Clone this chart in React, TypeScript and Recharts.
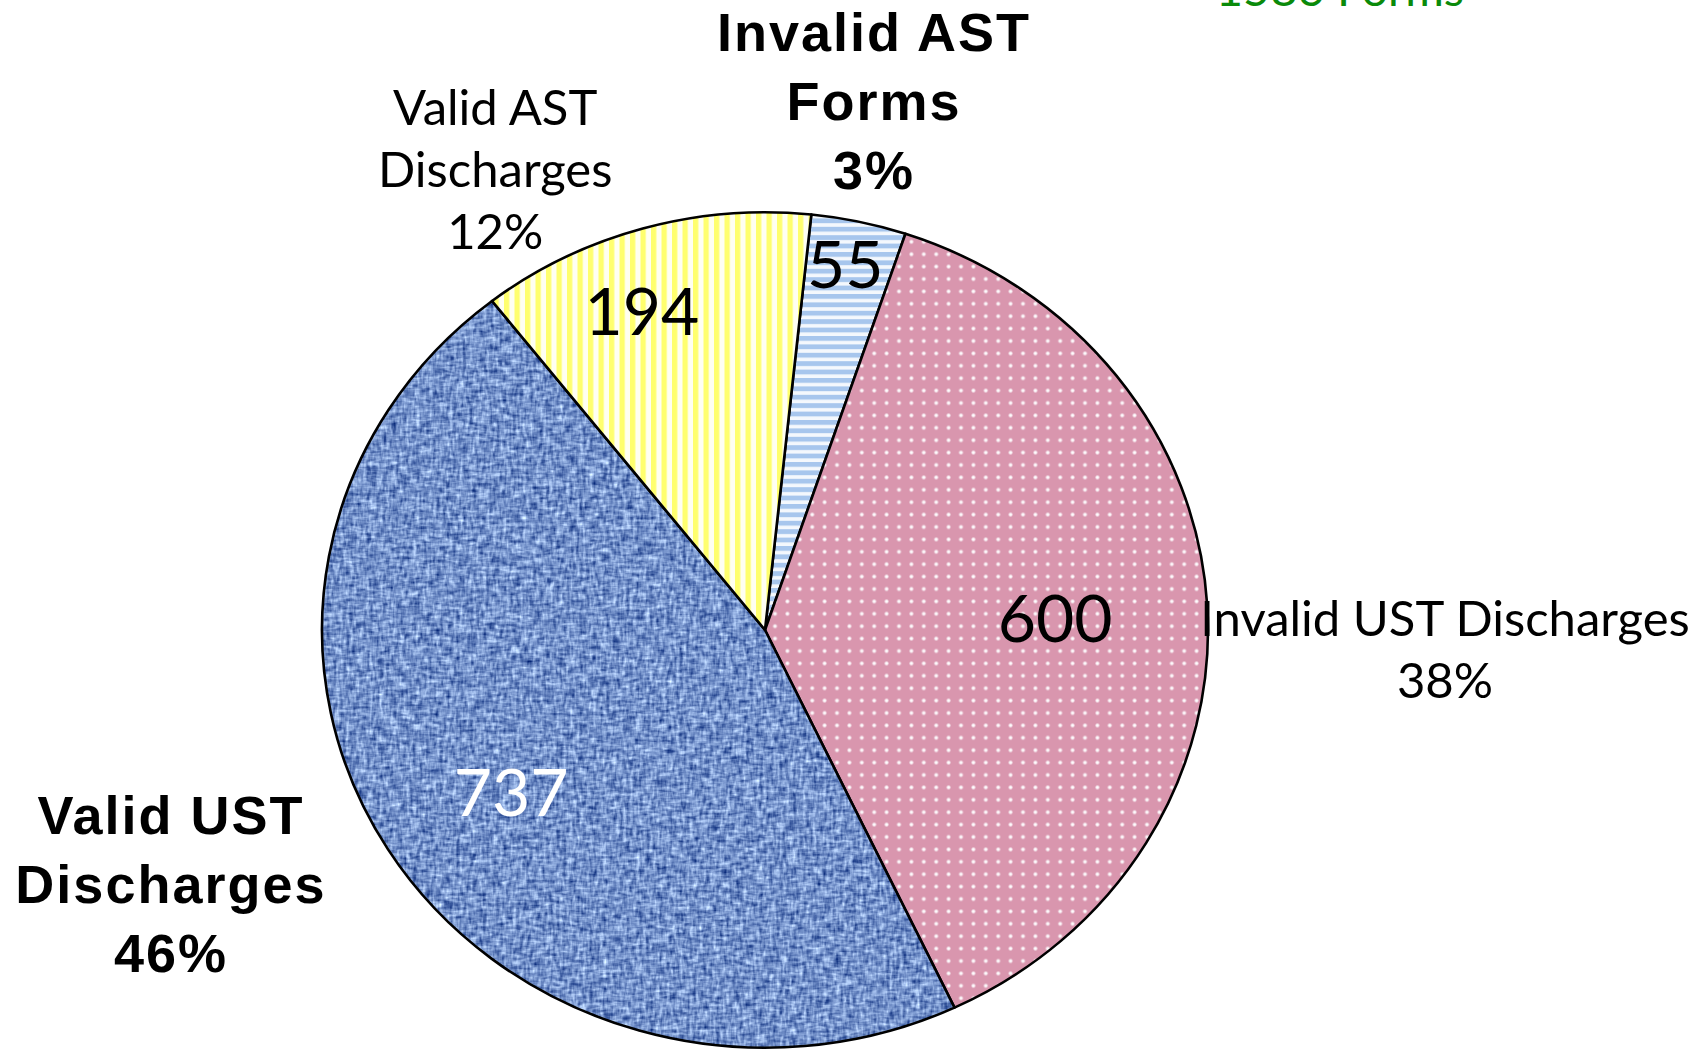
import React from "react";
import { PieChart, Pie, Cell } from "recharts";

// pie slices, clockwise from just right of 12 o'clock
const categories = ["Invalid AST\nForms", "Invalid UST Discharges", "Valid UST\nDischarges", "Valid AST\nDischarges"];
const counts = [55, 600, 737, 194];

const fills = ["url(#hStripe)", "url(#pinkDots)", "url(#blueWeave)", "url(#vStripe)"];
const boldLabel = [true, false, true, false];
const valueColors = ["#000", "#000", "#fff", "#000"];

// label anchors relative to the pie centre, in units of the radius
const nameSpots = [
  [0.246, -1.307],
  [1.535, 0.013],
  [-1.341, 0.46],
  [-0.609, -1.14]
];
const valueSpots = [
  [0.181, -0.772],
  [0.655, 0.027],
  [-0.573, 0.42],
  [-0.278, -0.666]
];

const W = 1706;
const H = 1053;
const SQUASH = 0.943;
const RAD = Math.PI / 180;

const tableData = categories.map((name, i) => ({ name, value: counts[i] }));
const totalForms = counts.reduce((a, b) => a + b, 0);

const EllipseSector = (props: any) => {
  const { cx, cy, outerRadius, startAngle, endAngle, fill } = props;
  const pt = (a: number) => [
    cx + outerRadius * Math.cos(-a * RAD),
    cy + outerRadius * SQUASH * Math.sin(-a * RAD)
  ];
  const [x1, y1] = pt(startAngle);
  const [x2, y2] = pt(endAngle);
  const large = Math.abs(endAngle - startAngle) > 180 ? 1 : 0;
  const sweep = startAngle > endAngle ? 1 : 0;
  const d = `M${cx},${cy} L${x1},${y1} A${outerRadius},${outerRadius * SQUASH} 0 ${large} ${sweep} ${x2},${y2} Z`;
  return <path d={d} fill={fill} stroke="#000" strokeWidth={2.6} strokeLinejoin="round" />;
};

const renderLabel = (p: any) => {
  const { cx, cy, outerRadius, index, value, percent } = p;
  const r = outerRadius;
  const bold = boldLabel[index];
  const lines = [...categories[index].split("\n"), `${Math.round(percent * 100)}%`];
  const nx = cx + nameSpots[index][0] * r;
  const ny = cy + nameSpots[index][1] * r;
  const vx = cx + valueSpots[index][0] * r;
  const vy = cy + valueSpots[index][1] * r;
  return (
    <g>
      <text
        x={nx}
        y={ny}
        textAnchor="middle"
        fill="#000"
        fontFamily={bold ? "'Liberation Sans', Arial, sans-serif" : "Lato, sans-serif"}
        fontWeight={bold ? 700 : 400}
        fontSize={bold ? 54 : 49}
        letterSpacing={bold ? 2 : 0}
      >
        {lines.map((l, i) => (
          <tspan key={i} x={nx} dy={i === 0 ? 0 : bold ? 69 : 62}>
            {l}
          </tspan>
        ))}
      </text>
      <text
        x={vx}
        y={vy}
        textAnchor="middle"
        fill={valueColors[index]}
        fontFamily="Lato, sans-serif"
        fontSize={66}
      >
        {value}
      </text>
    </g>
  );
};

export default function App() {
  return (
    <div style={{ position: "absolute", left: 0, top: 0, width: W, height: H, background: "#fff" }}>
      <PieChart width={W} height={H} margin={{ top: 0, right: 0, bottom: 0, left: 0 }}>
        <defs>
          <pattern id="hStripe" patternUnits="userSpaceOnUse" width={20} height={8.4}>
            <rect width={20} height={8.4} fill="#f4f8fd" />
            <rect y={0} width={20} height={4.8} fill="#a7c6ed" />
          </pattern>
          <pattern id="vStripe" patternUnits="userSpaceOnUse" width={10.5} height={20}>
            <rect width={10.5} height={20} fill="#fffff2" />
            <rect x={0} width={5.3} height={20} fill="#ffff6e" />
          </pattern>
          <pattern id="pinkDots" patternUnits="userSpaceOnUse" width={12.4} height={12.4}>
            <rect width={12.4} height={12.4} fill="#d996ae" />
            <circle cx={6.2} cy={6.2} r={2.1} fill="#f0d5e0" />
            <circle cx={6.2} cy={6.2} r={1.2} fill="#ffffff" />
          </pattern>
          <filter id="weave" x="0" y="0" width="100%" height="100%" colorInterpolationFilters="sRGB">
            <feTurbulence type="fractalNoise" baseFrequency="0.3 0.09" numOctaves={2} seed={4} result="h" />
            <feTurbulence type="fractalNoise" baseFrequency="0.09 0.3" numOctaves={2} seed={9} result="v" />
            <feComposite in="h" in2="v" operator="arithmetic" k1={0} k2={0.5} k3={0.5} k4={0} result="m" />
            <feColorMatrix
              in="m"
              type="matrix"
              values="1.35 0 0 0 -0.22  1.3 0 0 0 -0.08  1.0 0 0 0 0.29  0 0 0 0 1"
            />
          </filter>
          <pattern id="blueWeave" patternUnits="userSpaceOnUse" width={W} height={H}>
            <rect width={W} height={H} fill="#6386c4" filter="url(#weave)" />
          </pattern>
        </defs>
        <text
          x={1340}
          y={6}
          textAnchor="middle"
          fill="#0a8a0a"
          fontFamily="Lato, sans-serif"
          fontSize={47}
        >
          {`${totalForms} Forms`}
        </text>
        <Pie
          data={tableData}
          dataKey="value"
          nameKey="name"
          cx={765}
          cy={630}
          outerRadius={443}
          startAngle={84}
          endAngle={-276}
          stroke="#000"
          strokeWidth={2.6}
          shape={EllipseSector}
          label={renderLabel}
          labelLine={false}
          isAnimationActive={false}
        >
          {tableData.map((_, i) => (
            <Cell key={i} fill={fills[i]} />
          ))}
        </Pie>
      </PieChart>
    </div>
  );
}
